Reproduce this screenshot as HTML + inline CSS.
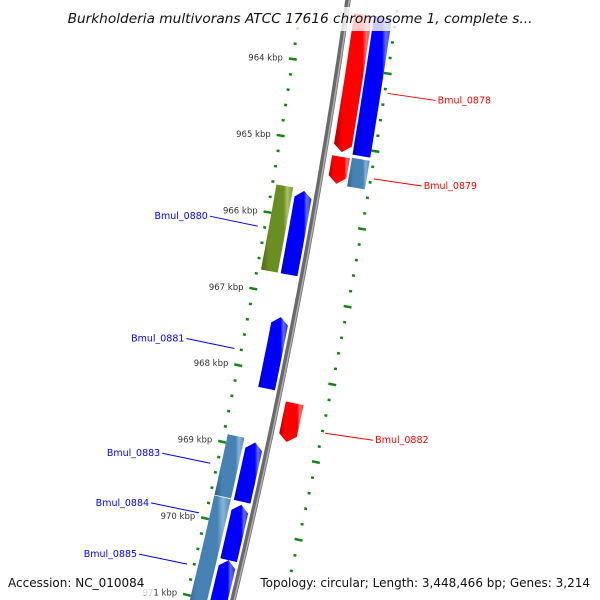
<!DOCTYPE html>
<html><head><meta charset="utf-8"><style>
html,body{margin:0;padding:0;background:#fff;width:600px;height:600px;overflow:hidden}
svg{display:block;overflow:hidden;font-family:"DejaVu Sans","Liberation Sans",sans-serif}
</style></head><body>
<svg id="map" width="600" height="600" viewBox="0 0 600 600">
<defs>
<linearGradient id="gRed" x1="0" x2="1"><stop offset="0" stop-color="#b00000"/><stop offset="0.25" stop-color="#ff0000"/><stop offset="0.75" stop-color="#ff0000"/><stop offset="0.85" stop-color="#ff7070"/><stop offset="1" stop-color="#ff2020"/></linearGradient>
<linearGradient id="gBlue" x1="0" x2="1"><stop offset="0" stop-color="#0000b0"/><stop offset="0.25" stop-color="#0000ff"/><stop offset="0.75" stop-color="#0000ff"/><stop offset="0.85" stop-color="#6070ff"/><stop offset="1" stop-color="#2020ff"/></linearGradient>
<linearGradient id="gSteel" x1="0" x2="1"><stop offset="0" stop-color="#2f5f86"/><stop offset="0.25" stop-color="#4682b4"/><stop offset="0.7" stop-color="#4682b4"/><stop offset="0.82" stop-color="#86b4d8"/><stop offset="1" stop-color="#4e8aba"/></linearGradient>
<linearGradient id="gGreen" x1="0" x2="1"><stop offset="0" stop-color="#4a6418"/><stop offset="0.25" stop-color="#6b8e23"/><stop offset="0.7" stop-color="#6b8e23"/><stop offset="0.82" stop-color="#a6c460"/><stop offset="1" stop-color="#74982c"/></linearGradient>
<clipPath id="frame"><rect x="0" y="0" width="600" height="600"/></clipPath>
</defs>
<g id="layer" clip-path="url(#frame)"></g>
</svg>
<script>
const geneNames=["Bmul_0878","Bmul_0878b","Bmul_0879","Bmul_0879b","Bmul_0880","Bmul_0880b","Bmul_0881","Bmul_0882","Bmul_0883","Bmul_0883b","Bmul_0884","Bmul_0884b","Bmul_0885"];
const geneStart=[963.3,963.3,965.14,965.13,965.63,965.65,967.29,968.33,968.89,968.92,969.69,969.73,970.45];
const geneEnd=[965.08,965.09,965.49,965.50,966.74,966.74,968.22,968.83,969.68,969.69,971.3,970.45,971.3];
const geneTrack=["ri","ro","ri","ro","lo","li","li","ri","lo","li","lo","li","li"];
const geneColor=["red","blue","red","steel","green","blue","blue","red","steel","blue","steel","blue","blue"];
const geneArrow=[1,0,1,0,0,-1,-1,1,0,-1,0,-1,-1];
const labelNames=["Bmul_0878","Bmul_0879","Bmul_0880","Bmul_0881","Bmul_0882","Bmul_0883","Bmul_0884","Bmul_0885"];
const labelKbp=[964.25,965.35,966.2,967.8,968.62,969.3,969.95,970.62];
const labelSide=[1,1,-1,-1,1,-1,-1,-1];
const tickLabels=["964 kbp","965 kbp","966 kbp","967 kbp","968 kbp","969 kbp","970 kbp","971 kbp"];
const tickKbp=[964,965,966,967,968,969,970,971];

const NS="http://www.w3.org/2000/svg";
const layer=document.getElementById('layer');
function yb(k){return 66+(k-964)*77.1;}
function xb(y){return 348-0.1417*y-8.33e-5*y*y;}
function pt(k,off){const y=yb(k);const d=-0.1417-1.666e-4*y;const n=Math.sqrt(1+d*d);return [xb(y)+off/n,y-d*off/n];}
function mk(tag,attrs){const e=document.createElementNS(NS,tag);for(const a in attrs)e.setAttribute(a,attrs[a]);return e;}
const trackOff={ri:[8,26],ro:[28,46],li:[-22,-5],lo:[-42,-25]};
const fills={red:"url(#gRed)",blue:"url(#gBlue)",steel:"url(#gSteel)",green:"url(#gGreen)"};

// backbone
let bp=[];for(let k=962.9;k<=971.9;k+=0.1){const p=pt(k,0);bp.push(p[0].toFixed(1)+","+p[1].toFixed(1));}
const bb1=mk('polyline',{points:bp.join(' '),fill:'none',stroke:'#6a6a6a','stroke-width':5.5});


layer.appendChild(bb1);
const bb2=mk('polyline',{points:bp.join(' '),fill:'none',stroke:'#b0b0b0','stroke-width':1.5,transform:'translate(1.3,0)'});


layer.appendChild(bb2);

// ticks
for(let i=0;i<=45;i++){const k=962.8+i*0.2;const major=Math.abs(k-Math.round(k))<0.01;
 [[-46,'left'],[50,'right']].forEach(([o,s])=>{const h=major?4:1.5;const a=pt(k,o-h),b=pt(k,o+h);
  const t=mk('line',{x1:a[0],y1:a[1],x2:b[0],y2:b[1],stroke:'#118811','stroke-width':2.5});
  
  
  layer.appendChild(t);});}
tickKbp.forEach((k,i)=>{const p=pt(k,-56);const t=mk('text',{x:p[0],y:p[1]+3,'text-anchor':'end','font-size':8.5,fill:'#333'});t.textContent=tickLabels[i];
 
 
 layer.appendChild(t);});

// genes
geneNames.forEach((g,i)=>{const [o1,o2]=trackOff[geneTrack[i]];let k1=geneStart[i],k2=geneEnd[i];const head=0.09;
 let a=k1,b=k2;if(geneArrow[i]<0)a=k1+head;if(geneArrow[i]>0)b=k2-head;
 const pts=[];const N=8;
 for(let j=0;j<=N;j++)pts.push(pt(a+(b-a)*j/N,o1));
 if(geneArrow[i]>0)pts.push(pt(k2,(o1+o2)/2));
 for(let j=N;j>=0;j--)pts.push(pt(a+(b-a)*j/N,o2));
 if(geneArrow[i]<0)pts.push(pt(k1,(o1+o2)/2));
 const poly=mk('polygon',{points:pts.map(p=>p[0].toFixed(1)+","+p[1].toFixed(1)).join(' '),fill:fills[geneColor[i]]});
 
 
 layer.appendChild(poly);});

// labels
labelNames.forEach((n,i)=>{const s=labelSide[i];const p=pt(labelKbp[i],53*s);const ex=p[0]+s*48,ey=p[1]+(s>0?7:-10);
 const col=s>0?'#ff0000':'#0000ff';
 const l=mk('line',{x1:p[0],y1:p[1],x2:ex,y2:ey,stroke:col,'stroke-width':1});
 
 
 layer.appendChild(l);
 const t=mk('text',{x:ex+s*2,y:ey+3,'text-anchor':s>0?'start':'end','font-size':9.5,fill:col});t.textContent=n;
 
 
 layer.appendChild(t);});

// overlays
const ov=[[60,7,480,24],[4,573,150,22],[256,573,340,22]];
ov.forEach(r=>{const e=mk('rect',{x:r[0],y:r[1],width:r[2],height:r[3],fill:'#fff','fill-opacity':0.8});
 
 
 layer.appendChild(e);});
const texts=[[300,23,'middle','italic',13.7,"Burkholderia multivorans ATCC 17616 chromosome 1, complete s...",'title'],
 [8,587,'start','normal',12,"Accession: NC_010084",'accession'],
 [590,587,'end','normal',12,"Topology: circular; Length: 3,448,466 bp; Genes: 3,214",'summary']];
texts.forEach(d=>{const t=mk('text',{x:d[0],y:d[1],'text-anchor':d[2],'font-style':d[3],'font-size':d[4],fill:'#111'});t.textContent=d[5];
 
 
 layer.appendChild(t);});
</script>
</body></html>
